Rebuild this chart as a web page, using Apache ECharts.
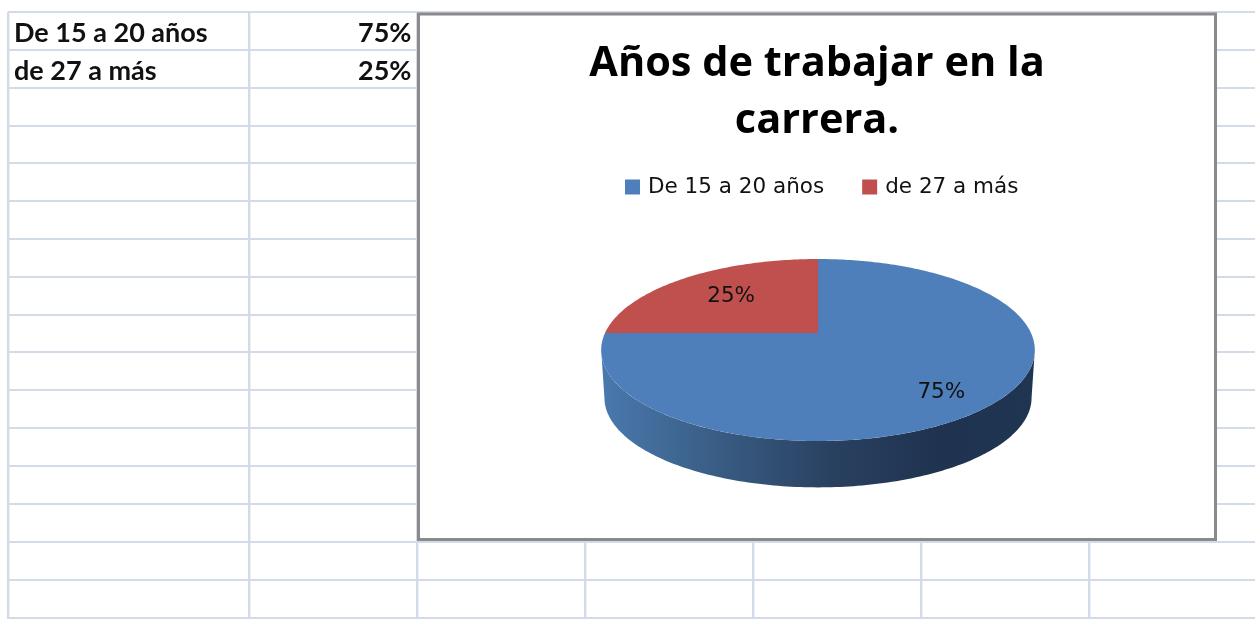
<!DOCTYPE html>
<html>
<head>
<meta charset="utf-8">
<style>html,body{margin:0;padding:0;background:#fff}#c{width:1255px;height:619px}</style>
<script src="https://cdn.jsdelivr.net/npm/echarts@6/dist/echarts.min.js"></script>
</head>
<body>
<div id="c"></div>
<script>
// ---- data ----
var categories = ['De 15 a 20 años', 'de 27 a más'];
var shares = [75, 25];
var seriesColors = ['#4f7fba', '#c0504d'];
var titleText = 'Años de trabajar en la\ncarrera.';

// ---- spreadsheet layout ----
var colLines = [8, 249, 417, 585, 753, 921, 1089];
var rowLines = [12, 50, 88, 126, 163, 201, 239, 277, 315, 352, 390, 428, 466, 504, 542, 580, 618];
var gridColor = '#d3dbe9';

// ---- pie projection (tilted, with perspective) ----
var PIE = { cx: 818, cy: 333, rx: 213, ry: 87.8, p: 0.187, depth: 48, bottomScale: 0.985 };
var labelPlace = [{ f: 0.845, dx: -20, dy: 0 }, { f: 0.648, dx: 3, dy: 0 }];

function project(theta, f, scale, dy) {
  var u = Math.sin(theta) * f, v = -Math.cos(theta) * f;
  var w = 1 - PIE.p * v;
  return [PIE.cx + scale * PIE.rx * u / w, PIE.cy + dy + scale * PIE.ry * v / w];
}
function sectorPoints(a0, a1) {
  var pts = [[PIE.cx, PIE.cy]], n = Math.max(8, Math.round((a1 - a0) * 60));
  for (var i = 0; i <= n; i++) pts.push(project(a0 + (a1 - a0) * i / n, 1, 1, 0));
  return pts;
}
function wallPoints() {
  var pts = [], n = 160, a0 = Math.PI * 0.56, a1 = Math.PI * 1.44, i;
  for (i = 0; i <= n; i++) pts.push(project(a0 + (a1 - a0) * i / n, 1, 1, 0));
  for (i = n; i >= 0; i--) pts.push(project(a0 + (a1 - a0) * i / n, 1, PIE.bottomScale, PIE.depth));
  return pts;
}
var total = shares.reduce(function (a, b) { return a + b; }, 0);

function makeRender(idx) {
  return function () {
    var before = shares.slice(0, idx).reduce(function (a, b) { return a + b; }, 0);
    var a0 = before / total * 2 * Math.PI, a1 = (before + shares[idx]) / total * 2 * Math.PI;
    var children = [];
    if (idx === 0) {
      children.push({
        type: 'polygon', shape: { points: wallPoints() },
        style: { fill: new echarts.graphic.LinearGradient(0, 0, 1, 0, [
          { offset: 0, color: '#4a79ae' },
          { offset: 0.3, color: '#37597f' },
          { offset: 0.55, color: '#283f5e' },
          { offset: 0.78, color: '#1f3350' },
          { offset: 1, color: '#1f3552' }
        ]) }
      });
    }
    children.push({ type: 'polygon', shape: { points: sectorPoints(a0, a1) }, style: { fill: seriesColors[idx] } });
    var mid = (a0 + a1) / 2, pl = labelPlace[idx], lp = project(mid, pl.f, 1, 0);
    children.push({
      type: 'text', z2: 10,
      style: {
        x: lp[0] + pl.dx, y: lp[1] + pl.dy, text: shares[idx] + '%',
        align: 'center', verticalAlign: 'middle',
        font: '21.5px "DejaVu Sans"', fill: '#111'
      }
    });
    return { type: 'group', children: children };
  };
}

// ---- spreadsheet background ----
var graphics = [];
colLines.forEach(function (x) {
  graphics.push({ type: 'rect', z: -5, silent: true, shape: { x: x - 1, y: 12, width: 2.4, height: 607 }, style: { fill: gridColor } });
});
rowLines.forEach(function (y) {
  graphics.push({ type: 'rect', z: -5, silent: true, shape: { x: 8, y: y - 1, width: 1247, height: 2 }, style: { fill: gridColor } });
});
// chart frame
graphics.push({ type: 'rect', z: -4, silent: true, shape: { x: 418.5, y: 14, width: 797, height: 525.5 }, style: { fill: '#fff', stroke: '#8a8a8a', lineWidth: 3 } });
// cell text
categories.forEach(function (name, i) {
  var cy = (rowLines[i] + rowLines[i + 1]) / 2 + 2;
  graphics.push({ type: 'text', z: -3, silent: true, style: { x: 14, y: cy, text: name, font: 'bold 27px Lato', fill: '#111', verticalAlign: 'middle' } });
  graphics.push({ type: 'text', z: -3, silent: true, style: { x: 411.5, y: cy, text: shares[i] + '%', font: 'bold 27px Lato', fill: '#111', align: 'right', verticalAlign: 'middle' } });
});

var chart = echarts.init(document.getElementById('c'), null, { renderer: 'canvas' });
chart.setOption({
  animation: false,
  backgroundColor: '#fff',
  title: {
    text: titleText, left: 812, top: 31, textAlign: 'center',
    textStyle: { fontFamily: '"Open Sans"', fontWeight: 'bold', fontSize: 41.5, lineHeight: 57, color: '#000' }
  },
  legend: {
    data: categories, left: 620, top: 171, itemWidth: 15, itemHeight: 15, itemGap: 38, icon: 'rect',
    selectedMode: false,
    textStyle: { fontFamily: '"DejaVu Sans"', fontSize: 21.5, color: '#111', padding: [0, 0, 0, 3] }
  },
  graphic: graphics,
  xAxis: { show: false }, yAxis: { show: false },
  grid: { left: 0, right: 0, top: 0, bottom: 0 },
  series: categories.map(function (name, i) {
    return {
      type: 'custom', name: name, coordinateSystem: 'none', silent: true, z: 2 + i,
      itemStyle: { color: seriesColors[i] },
      data: [shares[i]],
      renderItem: makeRender(i)
    };
  })
});
</script>
</body>
</html>
